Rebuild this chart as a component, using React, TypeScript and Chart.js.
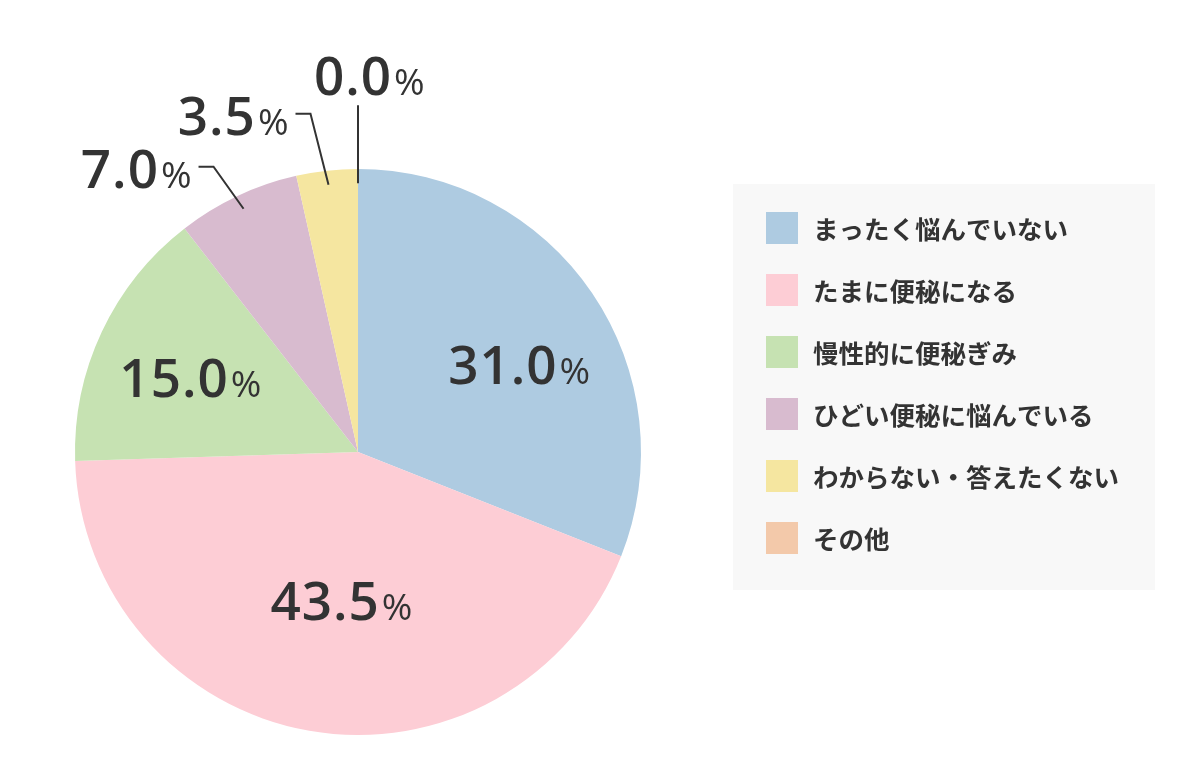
import React, { useEffect, useRef } from "react";
import { Chart, registerables } from "chart.js";

Chart.register(...registerables);

const categories: string[] = [
  "まったく悩んでいない",
  "たまに便秘になる",
  "慢性的に便秘ぎみ",
  "ひどい便秘に悩んでいる",
  "わからない・答えたくない",
  "その他",
];
const percentages: number[] = [31.0, 43.5, 15.0, 7.0, 3.5, 0.0];
const sliceColors: string[] = ["#aecbe1", "#fdcdd5", "#c6e2b2", "#d8bbcf", "#f5e6a0", "#f3c9aa"];

const TEXT = "#333333";
const NUM_FONT = "600 53px 'Open Sans', sans-serif";
const PCT_FONT = "400 37px 'Open Sans', sans-serif";

// inner label placement (radius fraction, angle tweak in degrees)
const innerPlace: Record<number, { f: number; adj: number }> = {
  0: { f: 0.65, adj: 5.7 },
  1: { f: 0.527, adj: -3.7 },
  2: { f: 0.646, adj: -1.3 },
};
// outer label leader geometry (offset of elbow from start, horizontal run)
const outerPlace: Record<number, { dx: number; dy: number; run: number }> = {
  3: { dx: -30, dy: -42, run: 15 },
  4: { dx: -18, dy: -71, run: 15 },
  5: { dx: 0, dy: -78, run: 0 },
};

function drawValue(ctx: CanvasRenderingContext2D, v: number, x: number, baseline: number, align: "center" | "right" | "numcenter") {
  const num = v.toFixed(1);
  (ctx as any).letterSpacing = "1px";
  ctx.font = NUM_FONT;
  const wn = ctx.measureText(num).width;
  ctx.font = PCT_FONT;
  const wp = ctx.measureText("%").width;
  const gap = 2;
  let left: number;
  if (align === "center") left = x - (wn + gap + wp) / 2;
  else if (align === "right") left = x - (wn + gap + wp);
  else left = x - wn / 2;
  ctx.fillStyle = TEXT;
  ctx.textAlign = "left";
  ctx.textBaseline = "alphabetic";
  ctx.font = NUM_FONT;
  ctx.fillText(num, left, baseline);
  ctx.font = PCT_FONT;
  ctx.fillText("%", left + wn + gap, baseline);
  (ctx as any).letterSpacing = "0px";
}

const labelPlugin = {
  id: "sliceLabels",
  afterDatasetsDraw(chart: any) {
    const ctx: CanvasRenderingContext2D = chart.ctx;
    const meta = chart.getDatasetMeta(0);
    const values: number[] = chart.data.datasets[0].data;
    ctx.save();
    meta.data.forEach((arc: any, i: number) => {
      const { x, y, startAngle, endAngle, outerRadius } = arc.getProps(
        ["x", "y", "startAngle", "endAngle", "outerRadius"],
        true
      );
      const mid = (startAngle + endAngle) / 2;
      const v = values[i];
      if (innerPlace[i]) {
        const p = innerPlace[i];
        const a = mid + (p.adj * Math.PI) / 180;
        const px = x + Math.cos(a) * outerRadius * p.f;
        const py = y + Math.sin(a) * outerRadius * p.f;
        drawValue(ctx, v, px, py + 19.5, "center");
      } else if (outerPlace[i]) {
        const p = outerPlace[i];
        const sx = x + Math.cos(mid) * outerRadius * 0.95;
        const sy = y + Math.sin(mid) * outerRadius * 0.95;
        const ex = sx + p.dx;
        const ey = sy + p.dy;
        ctx.strokeStyle = TEXT;
        ctx.lineWidth = 2;
        ctx.beginPath();
        ctx.moveTo(sx, sy);
        ctx.lineTo(ex, ey);
        if (p.run > 0) ctx.lineTo(ex - p.run, ey);
        ctx.stroke();
        if (p.run > 0) {
          drawValue(ctx, v, ex - p.run - 6, ey + 21, "right");
        } else {
          drawValue(ctx, v, ex - 5, ey - 10, "numcenter");
        }
      }
    });
    ctx.restore();
  },
};

const legendPlugin = {
  id: "boxLegend",
  afterDraw(chart: any) {
    const ctx: CanvasRenderingContext2D = chart.ctx;
    const labels: string[] = chart.data.labels;
    const colors: string[] = chart.data.datasets[0].backgroundColor;
    ctx.save();
    ctx.fillStyle = "#f8f8f8";
    ctx.fillRect(733, 184, 422, 406);
    labels.forEach((lab, i) => {
      const top = 212 + i * 62;
      ctx.fillStyle = colors[i];
      ctx.fillRect(766, top, 32, 32);
      ctx.fillStyle = TEXT;
      ctx.font = "bold 25.5px 'Noto Sans CJK JP', sans-serif";
      ctx.textAlign = "left";
      ctx.textBaseline = "middle";
      ctx.fillText(lab, 813, top + 17);
    });
    ctx.restore();
  },
};

export default function App() {
  const ref = useRef<HTMLCanvasElement | null>(null);
  useEffect(() => {
    if (!ref.current) return;
    const chart = new Chart(ref.current, {
      type: "pie",
      data: {
        labels: categories,
        datasets: [
          {
            data: percentages,
            backgroundColor: sliceColors,
            borderWidth: 0,
          },
        ],
      },
      options: {
        responsive: false,
        animation: false,
        events: [],
        layout: { padding: { left: 75, top: 169, right: 559, bottom: 41 } },
        plugins: {
          legend: { display: false },
          tooltip: { enabled: false },
        },
      },
      plugins: [labelPlugin, legendPlugin],
    } as any);
    return () => chart.destroy();
  }, []);
  return (
    <div style={{ position: "fixed", left: 0, top: 0, width: 1200, height: 776, background: "#ffffff" }}>
      <canvas ref={ref} width={1200} height={776} style={{ width: 1200, height: 776 }} />
    </div>
  );
}
